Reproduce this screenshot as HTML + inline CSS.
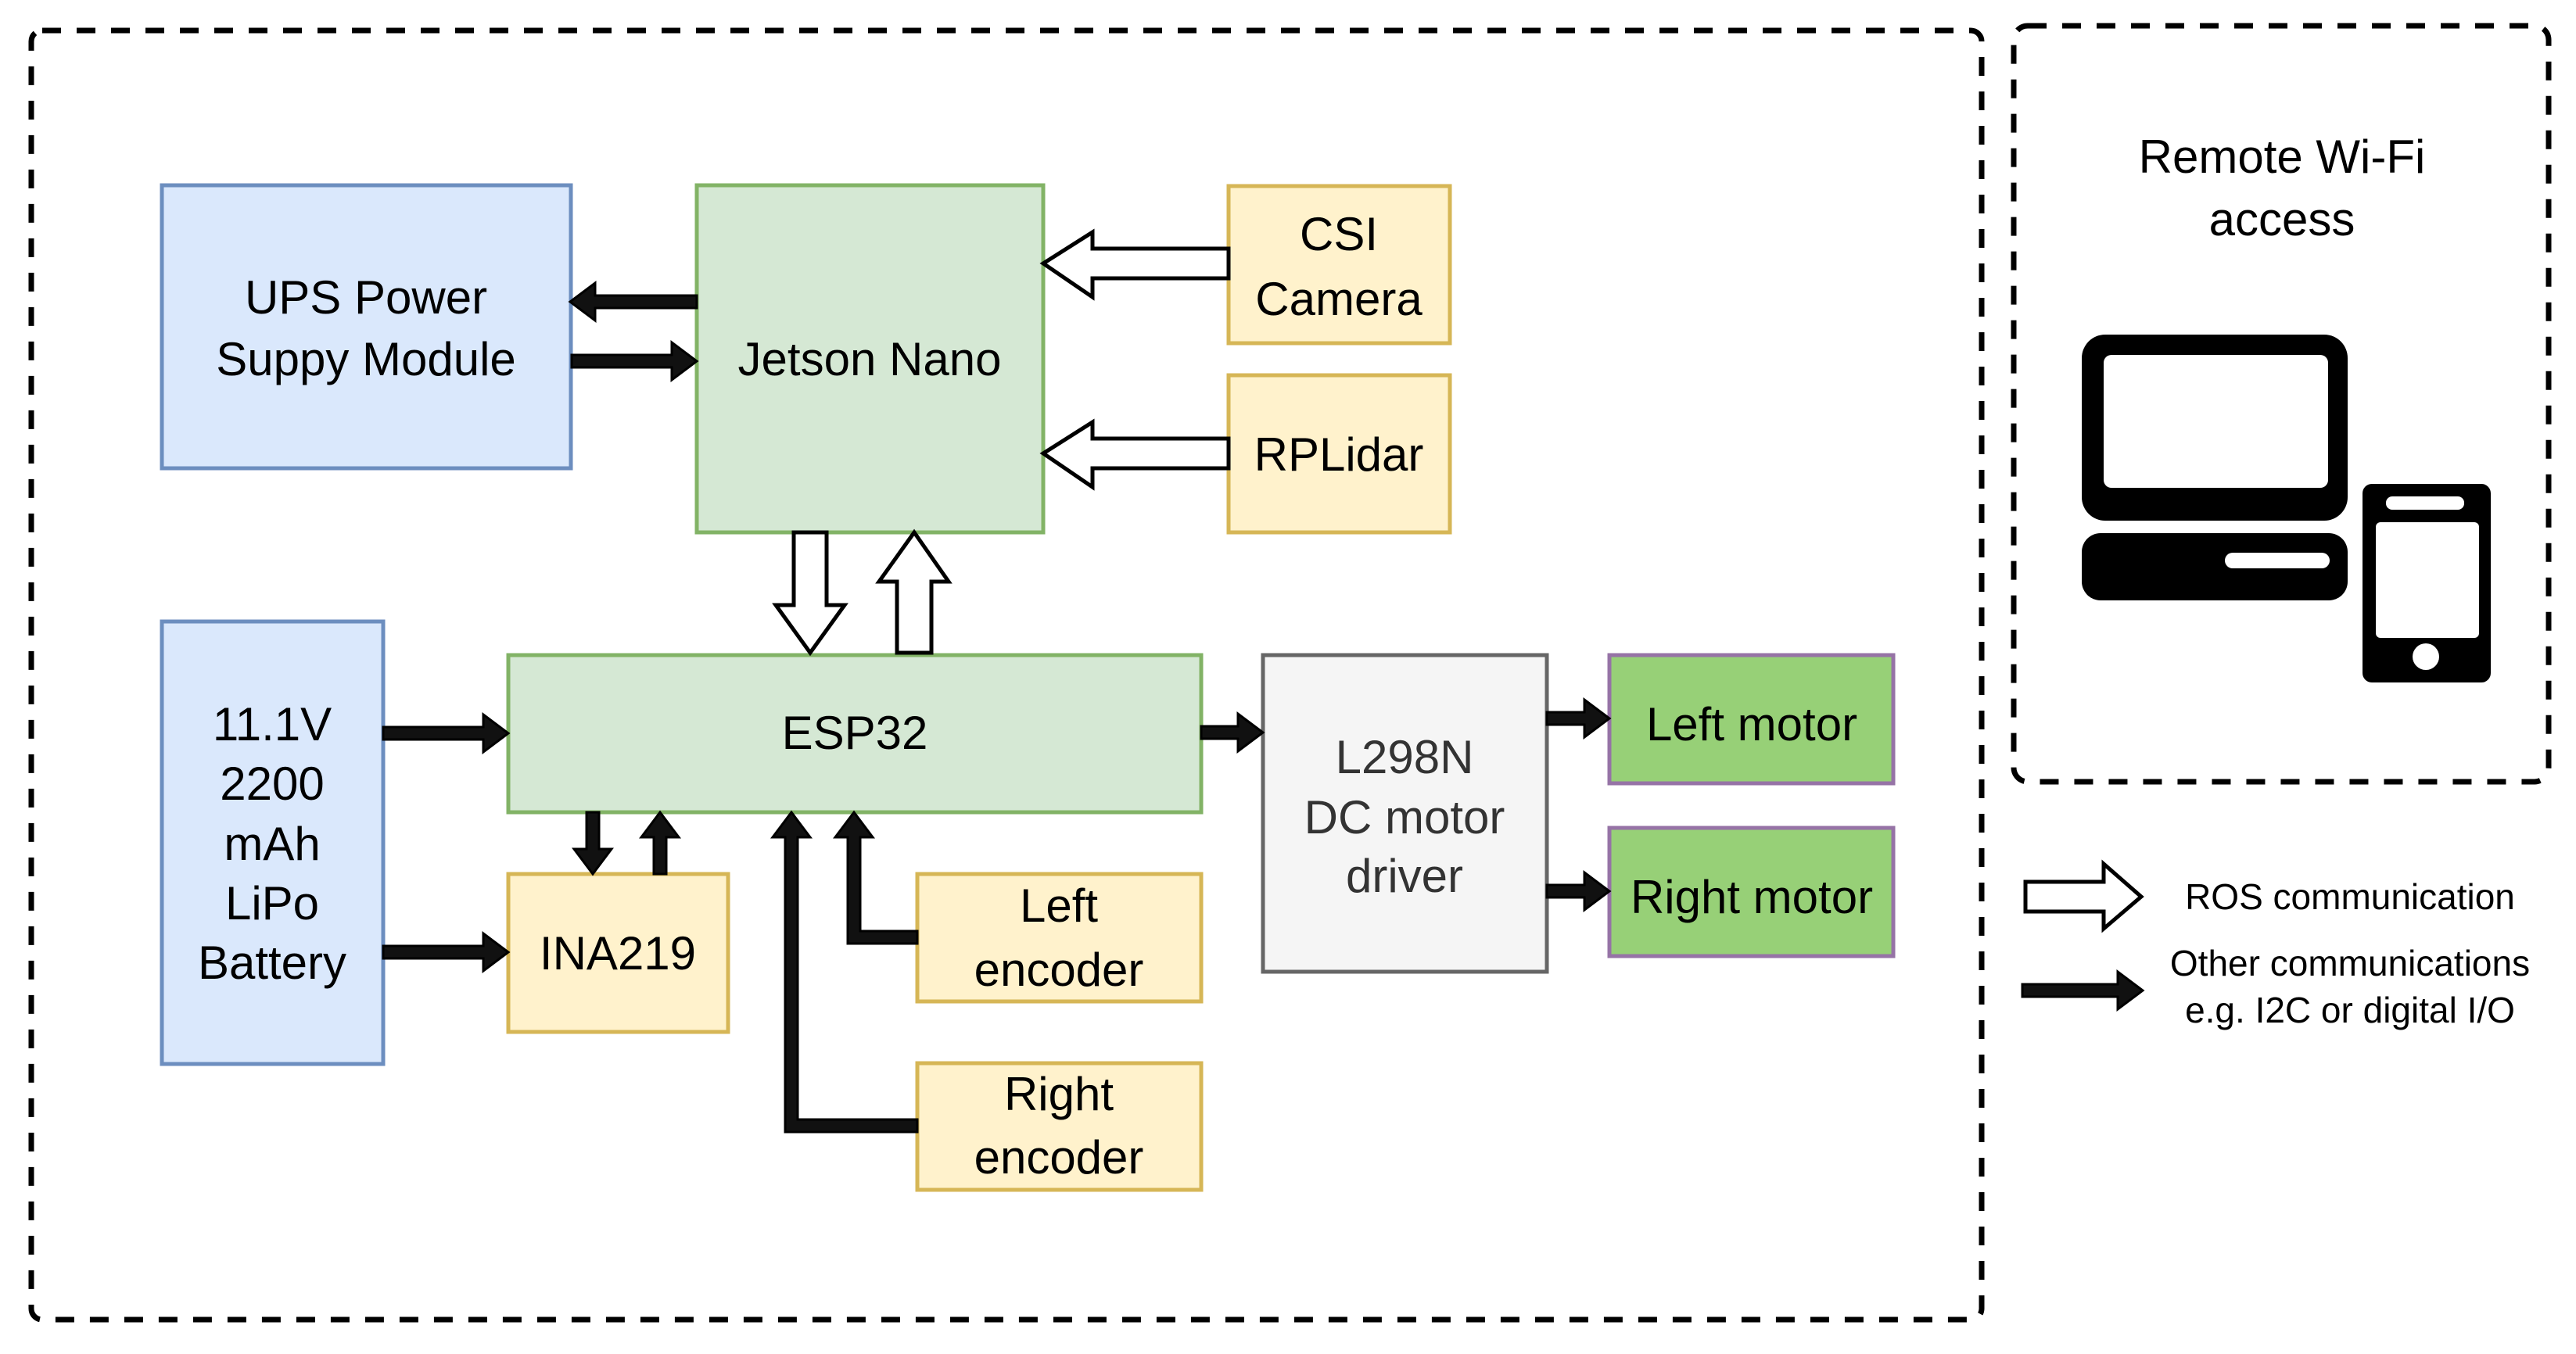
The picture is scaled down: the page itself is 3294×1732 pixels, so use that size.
<!DOCTYPE html>
<html><head><meta charset="utf-8"><style>
html,body{margin:0;padding:0;background:#fff;}
svg{display:block;}
text{font-family:"Liberation Sans",Arial,sans-serif;font-size:60px;text-anchor:middle;fill:#000;}
</style></head><body>
<svg width="3294" height="1732" viewBox="0 0 3294 1732" xmlns="http://www.w3.org/2000/svg">
<rect width="3294" height="1732" fill="#fff"/>
<!-- dashed containers -->
<rect x="40" y="39" width="2494" height="1649" rx="14" fill="none" stroke="#000" stroke-width="7" stroke-dasharray="24 20"/>
<rect x="2575" y="33" width="684" height="967" rx="18" fill="none" stroke="#000" stroke-width="7" stroke-dasharray="24 20"/>

<!-- boxes -->
<rect x="207" y="237" width="523" height="362" fill="#dae8fc" stroke="#6c8ebf" stroke-width="5"/>
<rect x="891" y="237" width="443" height="444" fill="#d5e8d4" stroke="#82b366" stroke-width="5"/>
<rect x="1571" y="238" width="283" height="201" fill="#fff2cc" stroke="#d6b656" stroke-width="5"/>
<rect x="1571" y="480" width="283" height="201" fill="#fff2cc" stroke="#d6b656" stroke-width="5"/>
<rect x="207" y="795" width="283" height="566" fill="#dae8fc" stroke="#6c8ebf" stroke-width="5"/>
<rect x="650" y="838" width="886" height="201" fill="#d5e8d4" stroke="#82b366" stroke-width="5"/>
<rect x="650" y="1118" width="281" height="202" fill="#fff2cc" stroke="#d6b656" stroke-width="5"/>
<rect x="1173" y="1118" width="363" height="163" fill="#fff2cc" stroke="#d6b656" stroke-width="5"/>
<rect x="1173" y="1360" width="363" height="162" fill="#fff2cc" stroke="#d6b656" stroke-width="5"/>
<rect x="1615" y="838" width="363" height="405" fill="#f5f5f5" stroke="#666" stroke-width="5"/>
<rect x="2058" y="838" width="363" height="164" fill="#97d077" stroke="#9673a6" stroke-width="5"/>
<rect x="2058" y="1059" width="363" height="164" fill="#97d077" stroke="#9673a6" stroke-width="5"/>

<!-- black arrows -->
<g fill="#111" stroke="#000" stroke-width="3" stroke-linejoin="miter">
<polygon points="891,378 761,378 761,362 729,386 761,410 761,394 891,394"/>
<polygon points="731,454 859,454 859,438 891,462 859,486 859,470 731,470"/>
<polygon points="490,930 618,930 618,914 650,938 618,962 618,946 490,946"/>
<polygon points="490,1210 618,1210 618,1194 650,1218 618,1242 618,1226 490,1226"/>
<polygon points="1536,929 1583,929 1583,913 1615,937 1583,961 1583,945 1536,945"/>
<polygon points="1978,911 2026,911 2026,895 2058,919 2026,943 2026,927 1978,927"/>
<polygon points="1978,1132 2026,1132 2026,1116 2058,1140 2026,1164 2026,1148 1978,1148"/>
<polygon points="750,1039 766,1039 766,1086 782,1086 758,1118 734,1086 750,1086"/>
<polygon points="836,1118 852,1118 852,1071 868,1071 844,1039 820,1071 836,1071"/>
<polygon points="1173,1432 1020,1432 1020,1071 1036,1071 1012,1039 988,1071 1004,1071 1004,1448 1173,1448"/>
<polygon points="1173,1191 1100,1191 1100,1071 1116,1071 1092,1039 1068,1071 1084,1071 1084,1207 1173,1207"/>
<polygon points="2586,1259 2708,1259 2708,1243 2740,1267 2708,1291 2708,1275 2586,1275"/>
</g>

<!-- hollow arrows -->
<g fill="#fff" stroke="#000" stroke-width="5" stroke-linejoin="miter">
<polygon points="1571,318 1397,318 1397,297 1334,337 1397,380 1397,356 1571,356"/>
<polygon points="1571,561 1397,561 1397,540 1334,580 1397,623 1397,599 1571,599"/>
<polygon points="1015,681 1057,681 1057,774 1080,774 1036,835 992,774 1015,774"/>
<polygon points="1147,835 1191,835 1191,744 1213,744 1169,681 1124,744 1147,744"/>
<polygon points="2590,1128 2690,1128 2690,1105 2738,1147 2690,1188 2690,1166 2590,1166"/>
</g>

<!-- computer icon -->
<rect x="2662" y="428" width="340" height="238" rx="30" fill="#000"/>
<rect x="2690" y="454" width="287" height="170" rx="10" fill="#fff"/>
<rect x="2662" y="682" width="340" height="86" rx="24" fill="#000"/>
<rect x="2845" y="707" width="134" height="20" rx="10" fill="#fff"/>
<rect x="3021" y="619" width="164" height="254" rx="12" fill="#000"/>
<rect x="3051" y="635" width="100" height="17" rx="8" fill="#fff"/>
<rect x="3038" y="668" width="132" height="148" rx="6" fill="#fff"/>
<circle cx="3102" cy="840" r="17" fill="#fff"/>

<!-- labels -->
<text x="468" y="401">UPS Power</text>
<text x="468" y="480">Suppy Module</text>
<text x="1112" y="480">Jetson Nano</text>
<text x="1712" y="320">CSI</text>
<text x="1712" y="403">Camera</text>
<text x="1712" y="602">RPLidar</text>
<text x="348" y="947">11.1V</text>
<text x="348" y="1023">2200</text>
<text x="348" y="1100">mAh</text>
<text x="348" y="1176">LiPo</text>
<text x="348" y="1252">Battery</text>
<text x="1093" y="958">ESP32</text>
<text x="790" y="1240">INA219</text>
<text x="1354" y="1179">Left</text>
<text x="1354" y="1261">encoder</text>
<text x="1354" y="1420">Right</text>
<text x="1354" y="1501">encoder</text>
<text x="1796" y="989" style="fill:#333">L298N</text>
<text x="1796" y="1066" style="fill:#333">DC motor</text>
<text x="1796" y="1141" style="fill:#333">driver</text>
<text x="2240" y="947">Left motor</text>
<text x="2240" y="1168">Right motor</text>
<text x="2918" y="221">Remote Wi-Fi</text>
<text x="2918" y="301">access</text>
<text x="3005" y="1163" style="font-size:46px">ROS communication</text>
<text x="3005" y="1248" style="font-size:46px">Other communications</text>
<text x="3005" y="1308" style="font-size:46px">e.g. I2C or digital I/O</text>
</svg>
</body></html>
